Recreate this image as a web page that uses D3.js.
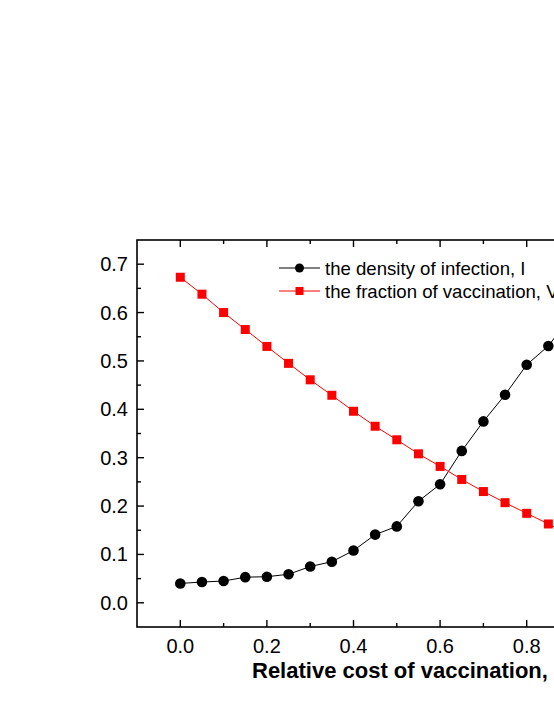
<!DOCTYPE html>
<html><head><meta charset="utf-8">
<script src="https://cdn.jsdelivr.net/npm/d3@7"></script>
<style>html,body{margin:0;padding:0;background:#fff;overflow:hidden;}svg{display:block;font-family:Arial,"Liberation Sans",sans-serif;}</style>
</head><body>
<svg id="c" width="554" height="717"></svg>
<script>
const costs = [0.0,0.05,0.10,0.15,0.20,0.25,0.30,0.35,0.40,0.45,0.50,0.55,0.60,0.65,0.70,0.75,0.80,0.85,0.90];
const infection = [0.040,0.043,0.045,0.053,0.054,0.059,0.075,0.085,0.108,0.141,0.158,0.210,0.245,0.314,0.375,0.430,0.492,0.531,0.590];
const vaccination = [0.673,0.638,0.600,0.565,0.530,0.495,0.461,0.429,0.396,0.365,0.337,0.308,0.282,0.255,0.230,0.207,0.185,0.163,0.141];
const xTicks = [0.0,0.2,0.4,0.6,0.8,1.0];
const yTicks = [0.0,0.1,0.2,0.3,0.4,0.5,0.6,0.7];
const legendLabels = ["the density of infection, I","the fraction of vaccination, V"];
const xTitle = "Relative cost of vaccination, c";

const svg = d3.select("#c");
const L=137, T=240, B=627;
const x = d3.scaleLinear().domain([-0.1,1.1]).range([L, L+1.2*433]);
const y = d3.scaleLinear().domain([-0.05,0.75]).range([B, T]);
const R = x.range()[1];

svg.append("rect").attr("x",L).attr("y",T).attr("width",R-L).attr("height",B-T)
  .attr("fill","none").attr("stroke","#000").attr("stroke-width",1.6);

const fmt = d3.format(".1f");
const minorX = d3.range(0,1.01,0.1);
const g = svg.append("g").attr("stroke","#000").attr("stroke-width",1.4);
minorX.forEach((v,i)=>{
  const len = (i%2===0)?7:4;
  g.append("line").attr("x1",x(v)).attr("x2",x(v)).attr("y1",B).attr("y2",B-len);
  g.append("line").attr("x1",x(v)).attr("x2",x(v)).attr("y1",T).attr("y2",T+len);
});
const minorY = d3.range(0,0.71,0.05);
minorY.forEach((v,i)=>{
  const len = (i%2===0)?7:4;
  g.append("line").attr("x1",L).attr("x2",L+len).attr("y1",y(v)).attr("y2",y(v));
  g.append("line").attr("x1",R).attr("x2",R-len).attr("y1",y(v)).attr("y2",y(v));
});
svg.append("g").selectAll("text").data(xTicks).join("text")
  .attr("x",d=>x(d)).attr("y",653).attr("text-anchor","middle")
  .attr("font-size",20).text(d=>fmt(d));
svg.append("g").selectAll("text").data(yTicks).join("text")
  .attr("x",128).attr("y",d=>y(d)+7).attr("text-anchor","end")
  .attr("font-size",20).text(d=>fmt(d));
svg.append("text").attr("x",252).attr("y",678).attr("font-size",22).attr("font-weight","bold").text(xTitle);

const line = d3.line().x((d,i)=>x(costs[i])).y(d=>y(d));
svg.append("path").datum(infection).attr("d",line).attr("fill","none").attr("stroke","#000").attr("stroke-width",1);
svg.append("path").datum(vaccination).attr("d",line).attr("fill","none").attr("stroke","#ff0000").attr("stroke-width",1);
svg.append("g").selectAll("rect").data(vaccination).join("rect")
  .attr("x",(d,i)=>x(costs[i])-4.5).attr("y",d=>y(d)-4.5).attr("width",9).attr("height",9).attr("fill","#ff0000");
svg.append("g").selectAll("circle").data(infection).join("circle")
  .attr("cx",(d,i)=>x(costs[i])).attr("cy",d=>y(d)).attr("r",5.3).attr("fill","#000");

const lg = svg.append("g");
const rows=[268,291];
lg.append("line").attr("x1",279).attr("x2",320).attr("y1",rows[0]).attr("y2",rows[0]).attr("stroke","#000");
lg.append("circle").attr("cx",299.5).attr("cy",rows[0]).attr("r",4.5).attr("fill","#000");
lg.append("line").attr("x1",279).attr("x2",320).attr("y1",rows[1]).attr("y2",rows[1]).attr("stroke","#ff0000");
lg.append("rect").attr("x",295.5).attr("y",rows[1]-4).attr("width",8).attr("height",8).attr("fill","#ff0000");
lg.selectAll("text").data(legendLabels).join("text").attr("x",325).attr("y",(d,i)=>rows[i]+6.5)
  .attr("font-size",18.6).text(d=>d);
</script>
</body></html>
